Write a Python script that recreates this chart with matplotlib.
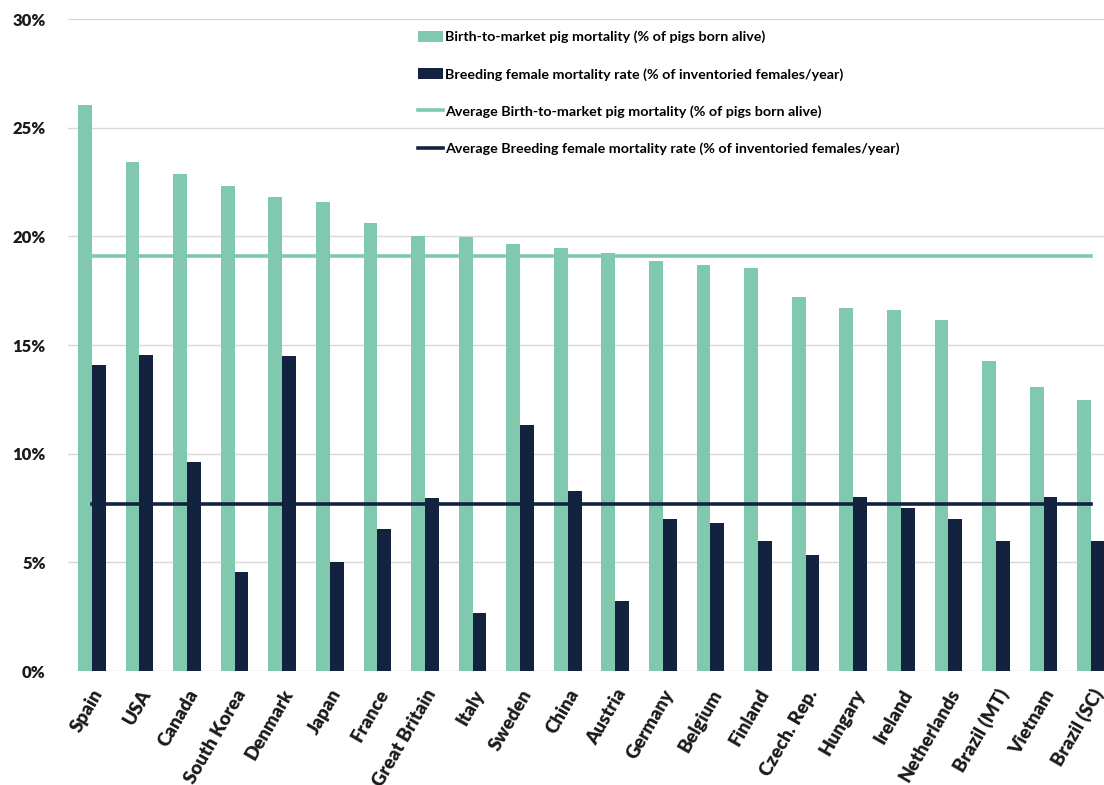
import matplotlib
matplotlib.use("Agg")
import matplotlib.pyplot as plt
import numpy as np
from matplotlib.ticker import FuncFormatter, MultipleLocator

countries = ["Spain", "USA", "Canada", "South Korea", "Denmark", "Japan", "France",
             "Great Britain", "Italy", "Sweden", "China", "Austria", "Germany", "Belgium",
             "Finland", "Czech. Rep.", "Hungary", "Ireland", "Netherlands", "Brazil (MT)",
             "Vietnam", "Brazil (SC)"]
birth_to_market = [26.05, 23.4, 22.85, 22.3, 21.8, 21.6, 20.6, 20.0, 19.95, 19.65, 19.45,
                   19.25, 18.85, 18.7, 18.55, 17.2, 16.7, 16.6, 16.15, 14.25, 13.05, 12.45]
breeding_female = [14.1, 14.55, 9.6, 4.55, 14.5, 5.0, 6.55, 7.95, 2.65, 11.3, 8.3,
                   3.2, 7.0, 6.8, 6.0, 5.35, 8.0, 7.5, 7.0, 6.0, 8.0, 6.0]
avg_birth_to_market = 19.1
avg_breeding_female = 7.7

label_btm = "Birth-to-market pig mortality (% of pigs born alive)"
label_bf = "Breeding female mortality rate (% of inventoried females/year)"
label_avg_btm = "Average Birth-to-market pig mortality (% of pigs born alive)"
label_avg_bf = "Average Breeding female mortality rate (% of inventoried females/year)"

green = "#80C9AE"
navy = "#13233F"
font = "Lato"

fig = plt.figure(figsize=(11.04, 7.85), dpi=100)
ax = fig.add_axes([68 / 1104, 114 / 785, 1047 / 1104, 652 / 785])

x = np.arange(len(countries))
w = 0.29
bars_btm = ax.bar(x - w / 2, birth_to_market, width=w, color=green, zorder=2)
bars_bf = ax.bar(x + w / 2, breeding_female, width=w, color=navy, zorder=2)
line_btm, = ax.plot([x[0], x[-1]], [avg_birth_to_market] * 2, color=green, lw=2.6, zorder=3)
line_bf, = ax.plot([x[0], x[-1]], [avg_breeding_female] * 2, color=navy, lw=2.6, zorder=3)

ax.set_xlim(-0.5, len(countries) - 0.5)
ax.set_ylim(0, 30)
ax.yaxis.set_major_locator(MultipleLocator(5))
ax.yaxis.set_major_formatter(FuncFormatter(lambda v, p: f"{v:.0f}%"))
ax.grid(axis="y", color="#D9D9D9", lw=1.0, zorder=0)
ax.set_axisbelow(True)
for s in ax.spines.values():
    s.set_visible(False)

ax.tick_params(axis="y", length=0, pad=16)
ax.tick_params(axis="x", length=0, pad=11)
for t in ax.get_yticklabels():
    t.set_fontfamily(font)
    t.set_fontweight("heavy")
    t.set_fontsize(12)
    t.set_color("#1a1a1a")

ax.set_xticks(x)
ax.set_xticklabels(countries, rotation=60, ha="right", rotation_mode="anchor",
                   fontfamily=font, fontweight="heavy", fontsize=13.5, color="#1a1a1a")

ax.legend([bars_btm, bars_bf, line_btm, line_bf],
          [label_btm, label_bf, label_avg_btm, label_avg_bf],
          loc="upper left", bbox_to_anchor=(344 / 1047, 0.991), frameon=False,
          prop={"family": font, "weight": "bold", "size": 10.3},
          labelspacing=1.72, handlelength=1.75, handleheight=0.8, handletextpad=0.15,
          borderaxespad=0.0)

fig.savefig("out.png", dpi=100, facecolor="white")
